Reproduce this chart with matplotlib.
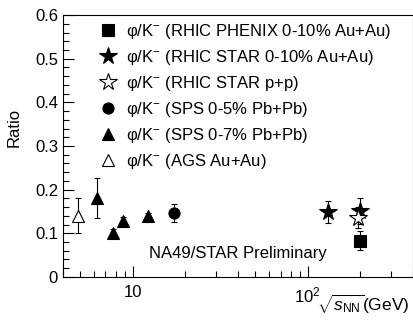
import matplotlib
matplotlib.use("Agg")
from matplotlib import pyplot as plt
from matplotlib.lines import Line2D
from matplotlib.ticker import LogLocator, MultipleLocator, FixedFormatter, FixedLocator, NullFormatter

plt.rcParams["font.family"] = ["Liberation Sans", "DejaVu Sans"]
plt.rcParams["mathtext.fontset"] = "custom"
plt.rcParams["mathtext.rm"] = "Liberation Sans"
plt.rcParams["mathtext.it"] = "Liberation Sans:italic"

# data (sqrt(s_NN) in GeV, phi/K- ratio, error)
phenix_x = [200]
phenix_y = [0.083]
phenix_err = [0.022]

star_x = [130, 200]
star_y = [0.149, 0.151]
star_err = [0.025, 0.03]

pp_x = [193]
pp_y = [0.136]
pp_err = [0.025]

sps5_x = [17.3]
sps5_y = [0.146]
sps5_err = [0.021]

sps7_x = [6.27, 7.7, 8.8, 12.3]
sps7_y = [0.181, 0.101, 0.129, 0.139]
sps7_err = [0.045, 0.008, 0.008, 0.008]

ags_x = [4.87]
ags_y = [0.14]
ags_err = [0.04]

labels = [
    "φ/K$^{-}$ (RHIC PHENIX 0-10% Au+Au)",
    "φ/K$^{-}$ (RHIC STAR 0-10% Au+Au)",
    "φ/K$^{-}$ (RHIC STAR p+p)",
    "φ/K$^{-}$ (SPS 0-5% Pb+Pb)",
    "φ/K$^{-}$ (SPS 0-7% Pb+Pb)",
    "φ/K$^{-}$ (AGS Au+Au)",
]

# marker, size, face colour for each series (legend order)
styles = [("s", 8, "black"), ("*", 13, "black"), ("*", 13, "white"),
          ("o", 8, "black"), ("^", 9, "black"), ("^", 9, "white")]
series = [(phenix_x, phenix_y, phenix_err), (star_x, star_y, star_err), (pp_x, pp_y, pp_err),
          (sps5_x, sps5_y, sps5_err), (sps7_x, sps7_y, sps7_err), (ags_x, ags_y, ags_err)]

fig = plt.figure(figsize=(4.14, 3.22), dpi=100)
ax = fig.add_axes([0.152, 0.140, 0.846, 0.813])

handles = []
for (x, y, e), (m, ms, fc) in zip(series, styles):
    ax.errorbar(x, y, yerr=e, marker=m, ms=ms, mfc=fc, mec="black", mew=0.8,
                color="black", ecolor="black", elinewidth=0.8, capsize=2, capthick=0.8,
                linestyle="none")
    handles.append(Line2D([], [], marker=m, ms=ms, mfc=fc, mec="black", mew=0.8,
                          linestyle="none"))

ax.set_xscale("log")
ax.set_xlim(4, 400)
ax.set_ylim(0, 0.6)

ax.xaxis.set_major_locator(FixedLocator([10, 100]))
ax.xaxis.set_major_formatter(FixedFormatter(["10", "10$^{2}$"]))
ax.xaxis.set_minor_locator(LogLocator(base=10, subs=range(2, 10)))
ax.xaxis.set_minor_formatter(NullFormatter())
ax.set_yticks([0, 0.1, 0.2, 0.3, 0.4, 0.5, 0.6])
ax.set_yticklabels(["0", "0.1", "0.2", "0.3", "0.4", "0.5", "0.6"])
ax.yaxis.set_minor_locator(MultipleLocator(0.02))

ax.tick_params(which="both", direction="in", labelsize=12, width=0.8)
ax.tick_params(which="major", length=8)
ax.tick_params(which="minor", length=4)
ax.tick_params(axis="x", pad=6)
for s in ax.spines.values():
    s.set_linewidth(0.8)

fig.text(14 / 414, 1 - 127 / 322, "Ratio", fontsize=12, rotation=90, ha="center", va="center")
fig.text(0.99, 0.02, r"$\sqrt{s_{\mathrm{NN}}}$(GeV)", fontsize=12.5, ha="right", va="bottom")

ax.text(0.245, 0.09, "NA49/STAR Preliminary", transform=ax.transAxes, fontsize=12, va="center")

ax.legend(handles, labels, frameon=False, fontsize=12,
          loc="upper left", bbox_to_anchor=(0.2415, 0.932), bbox_transform=fig.transFigure,
          borderaxespad=0, borderpad=0, handlelength=1.0, handletextpad=0.55,
          labelspacing=0.42)

fig.savefig("out.png", dpi=100)
